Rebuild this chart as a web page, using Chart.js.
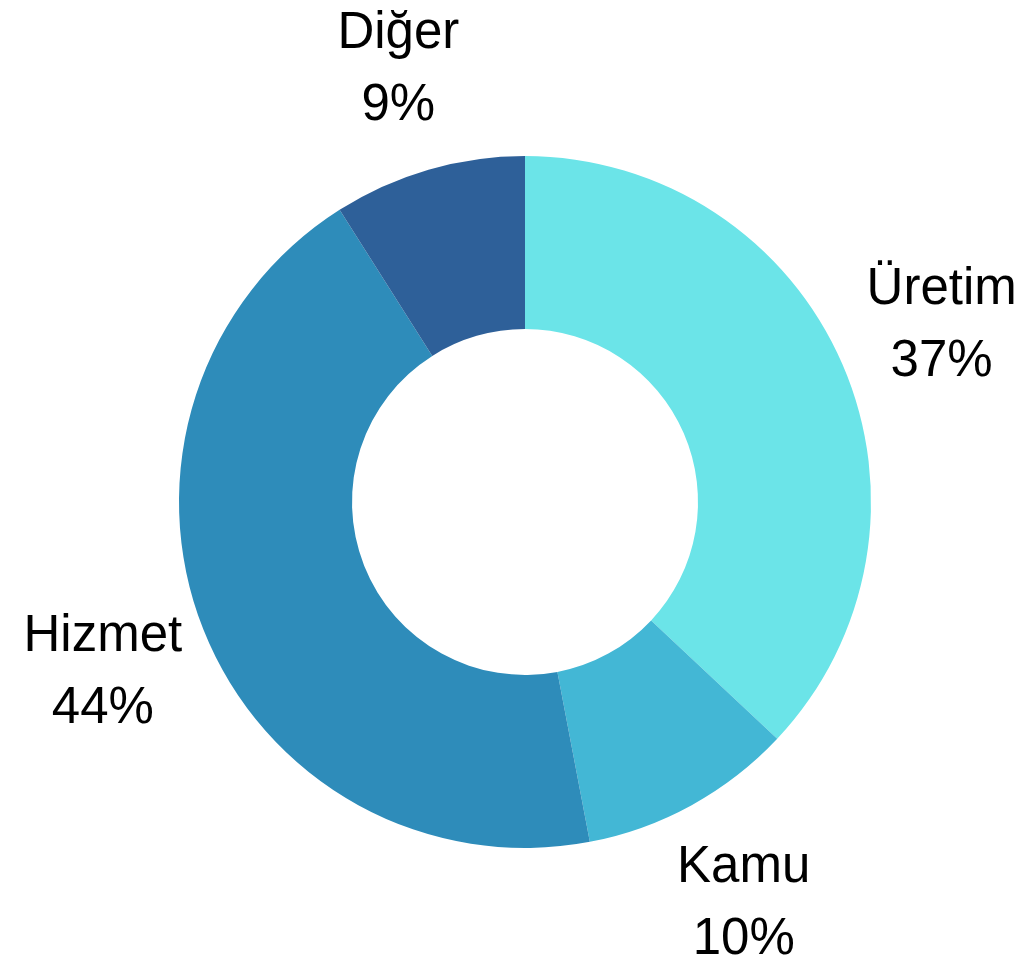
<!DOCTYPE html>
<html>
<head>
<meta charset="utf-8">
<script src="https://cdn.jsdelivr.net/npm/chart.js@4"></script>
<style>
  html, body { margin: 0; padding: 0; background: #fff; }
  #wrap { width: 1018px; height: 963px; }
</style>
</head>
<body>
<div id="wrap"><canvas id="grafico" width="1018" height="963"></canvas></div>
<script>
const categorias = ["Üretim", "Kamu", "Hizmet", "Diğer"];
const valores = [37, 10, 44, 9];
const colores = ["#6be4e8", "#43b7d5", "#2e8cba", "#2e6099"];

// etiquetas fuera del anillo: nombre y porcentaje
const etiquetas = {
  id: "etiquetas",
  afterDatasetsDraw(chart) {
    const ctx = chart.ctx;
    const meta = chart.getDatasetMeta(0);
    const total = valores.reduce((a, b) => a + b, 0);
    ctx.save();
    ctx.fillStyle = "#000";
    ctx.font = "51px 'Liberation Sans', Arial, sans-serif";
    ctx.textAlign = "center";
    ctx.textBaseline = "alphabetic";
    meta.data.forEach((arc, i) => {
      const p = arc.getProps(["x", "y", "startAngle", "endAngle", "outerRadius"], true);
      const ang = (p.startAngle + p.endAngle) / 2;
      const r = p.outerRadius + 108;
      const x = p.x + Math.cos(ang) * r;
      const y = p.y + Math.sin(ang) * r;
      const pct = Math.round(valores[i] / total * 100) + "%";
      ctx.fillText(categorias[i], x, y - 36 + 18);
      ctx.fillText(pct, x, y + 36 + 18);
    });
    ctx.restore();
  }
};

new Chart(document.getElementById("grafico").getContext("2d"), {
  type: "doughnut",
  data: {
    labels: categorias,
    datasets: [{
      data: valores,
      backgroundColor: colores,
      borderWidth: 0
    }]
  },
  options: {
    responsive: false,
    animation: false,
    cutout: "50%",
    layout: { padding: { left: 179, right: 147, top: 156, bottom: 115 } },
    plugins: {
      legend: { display: false },
      tooltip: { enabled: false }
    }
  },
  plugins: [etiquetas]
});
</script>
</body>
</html>
